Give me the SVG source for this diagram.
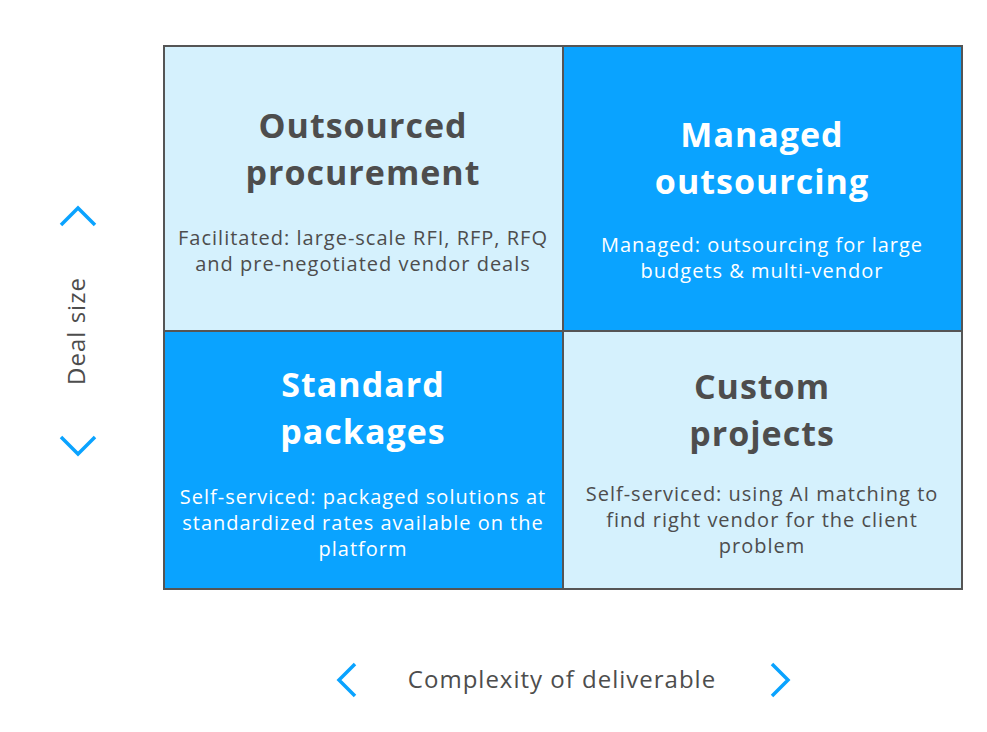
<svg xmlns="http://www.w3.org/2000/svg" width="987" height="732" viewBox="0 0 987 732">
<style>
.light{fill:#d5f1fd}
.dark{fill:#0aa3ff}
.grid{fill:none;stroke:#555;stroke-width:2}
text{font-family:"Open Sans","Noto Sans","Liberation Sans",sans-serif;text-anchor:middle}
.title{font-size:34px;font-weight:bold;letter-spacing:1px}
.body{font-size:20px;letter-spacing:1px}
.d{fill:#4d4d4d}
.w{fill:#ffffff}
.axis{font-size:24px;fill:#4d4d4d;letter-spacing:1px}
.chev{fill:none;stroke:#0aa3ff;stroke-width:3.5}
</style>
<rect width="987" height="732" fill="#ffffff"/>
<g id="outsourced-procurement">
<rect class="light" x="164" y="46" width="399" height="285"/>
<text class="title d" x="363" y="138">Outsourced</text>
<text class="title d" x="363" y="185">procurement</text>
<text class="body d" x="363" y="245">Facilitated: large-scale RFI, RFP, RFQ</text>
<text class="body d" x="363" y="271">and pre-negotiated vendor deals</text>
</g>
<g id="managed-outsourcing">
<rect class="dark" x="563" y="46" width="399" height="285"/>
<text class="title w" x="762" y="147">Managed</text>
<text class="title w" x="762" y="194">outsourcing</text>
<text class="body w" x="762" y="252">Managed: outsourcing for large</text>
<text class="body w" x="762" y="278">budgets &amp; multi-vendor</text>
</g>
<g id="standard-packages">
<rect class="dark" x="164" y="331" width="399" height="258"/>
<text class="title w" x="363" y="397">Standard</text>
<text class="title w" x="363" y="444">packages</text>
<text class="body w" x="363" y="504">Self-serviced: packaged solutions at</text>
<text class="body w" x="363" y="530">standardized rates available on the</text>
<text class="body w" x="363" y="556">platform</text>
</g>
<g id="custom-projects">
<rect class="light" x="563" y="331" width="399" height="258"/>
<text class="title d" x="762" y="399">Custom</text>
<text class="title d" x="762" y="446">projects</text>
<text class="body d" x="762" y="501">Self-serviced: using AI matching to</text>
<text class="body d" x="762" y="527">find right vendor for the client</text>
<text class="body d" x="762" y="553">problem</text>
</g>
<g id="connectors">
<rect class="grid" x="164" y="46" width="798" height="543"/>
<line class="grid" x1="563" y1="46" x2="563" y2="589"/>
<line class="grid" x1="164" y1="331" x2="962" y2="331"/>
</g>
<g id="y-axis">
<polyline class="chev" points="61,225 78,208 95,225"/>
<polyline class="chev" points="61,437 78,454 95,437"/>
<text class="axis" transform="translate(85,331) rotate(-90)" x="0" y="0">Deal size</text>
</g>
<g id="x-axis">
<polyline class="chev" points="355,664 339,680 355,696"/>
<polyline class="chev" points="772,664 788,680 772,696"/>
<text class="axis" x="562" y="688">Complexity of deliverable</text>
</g>
</svg>
